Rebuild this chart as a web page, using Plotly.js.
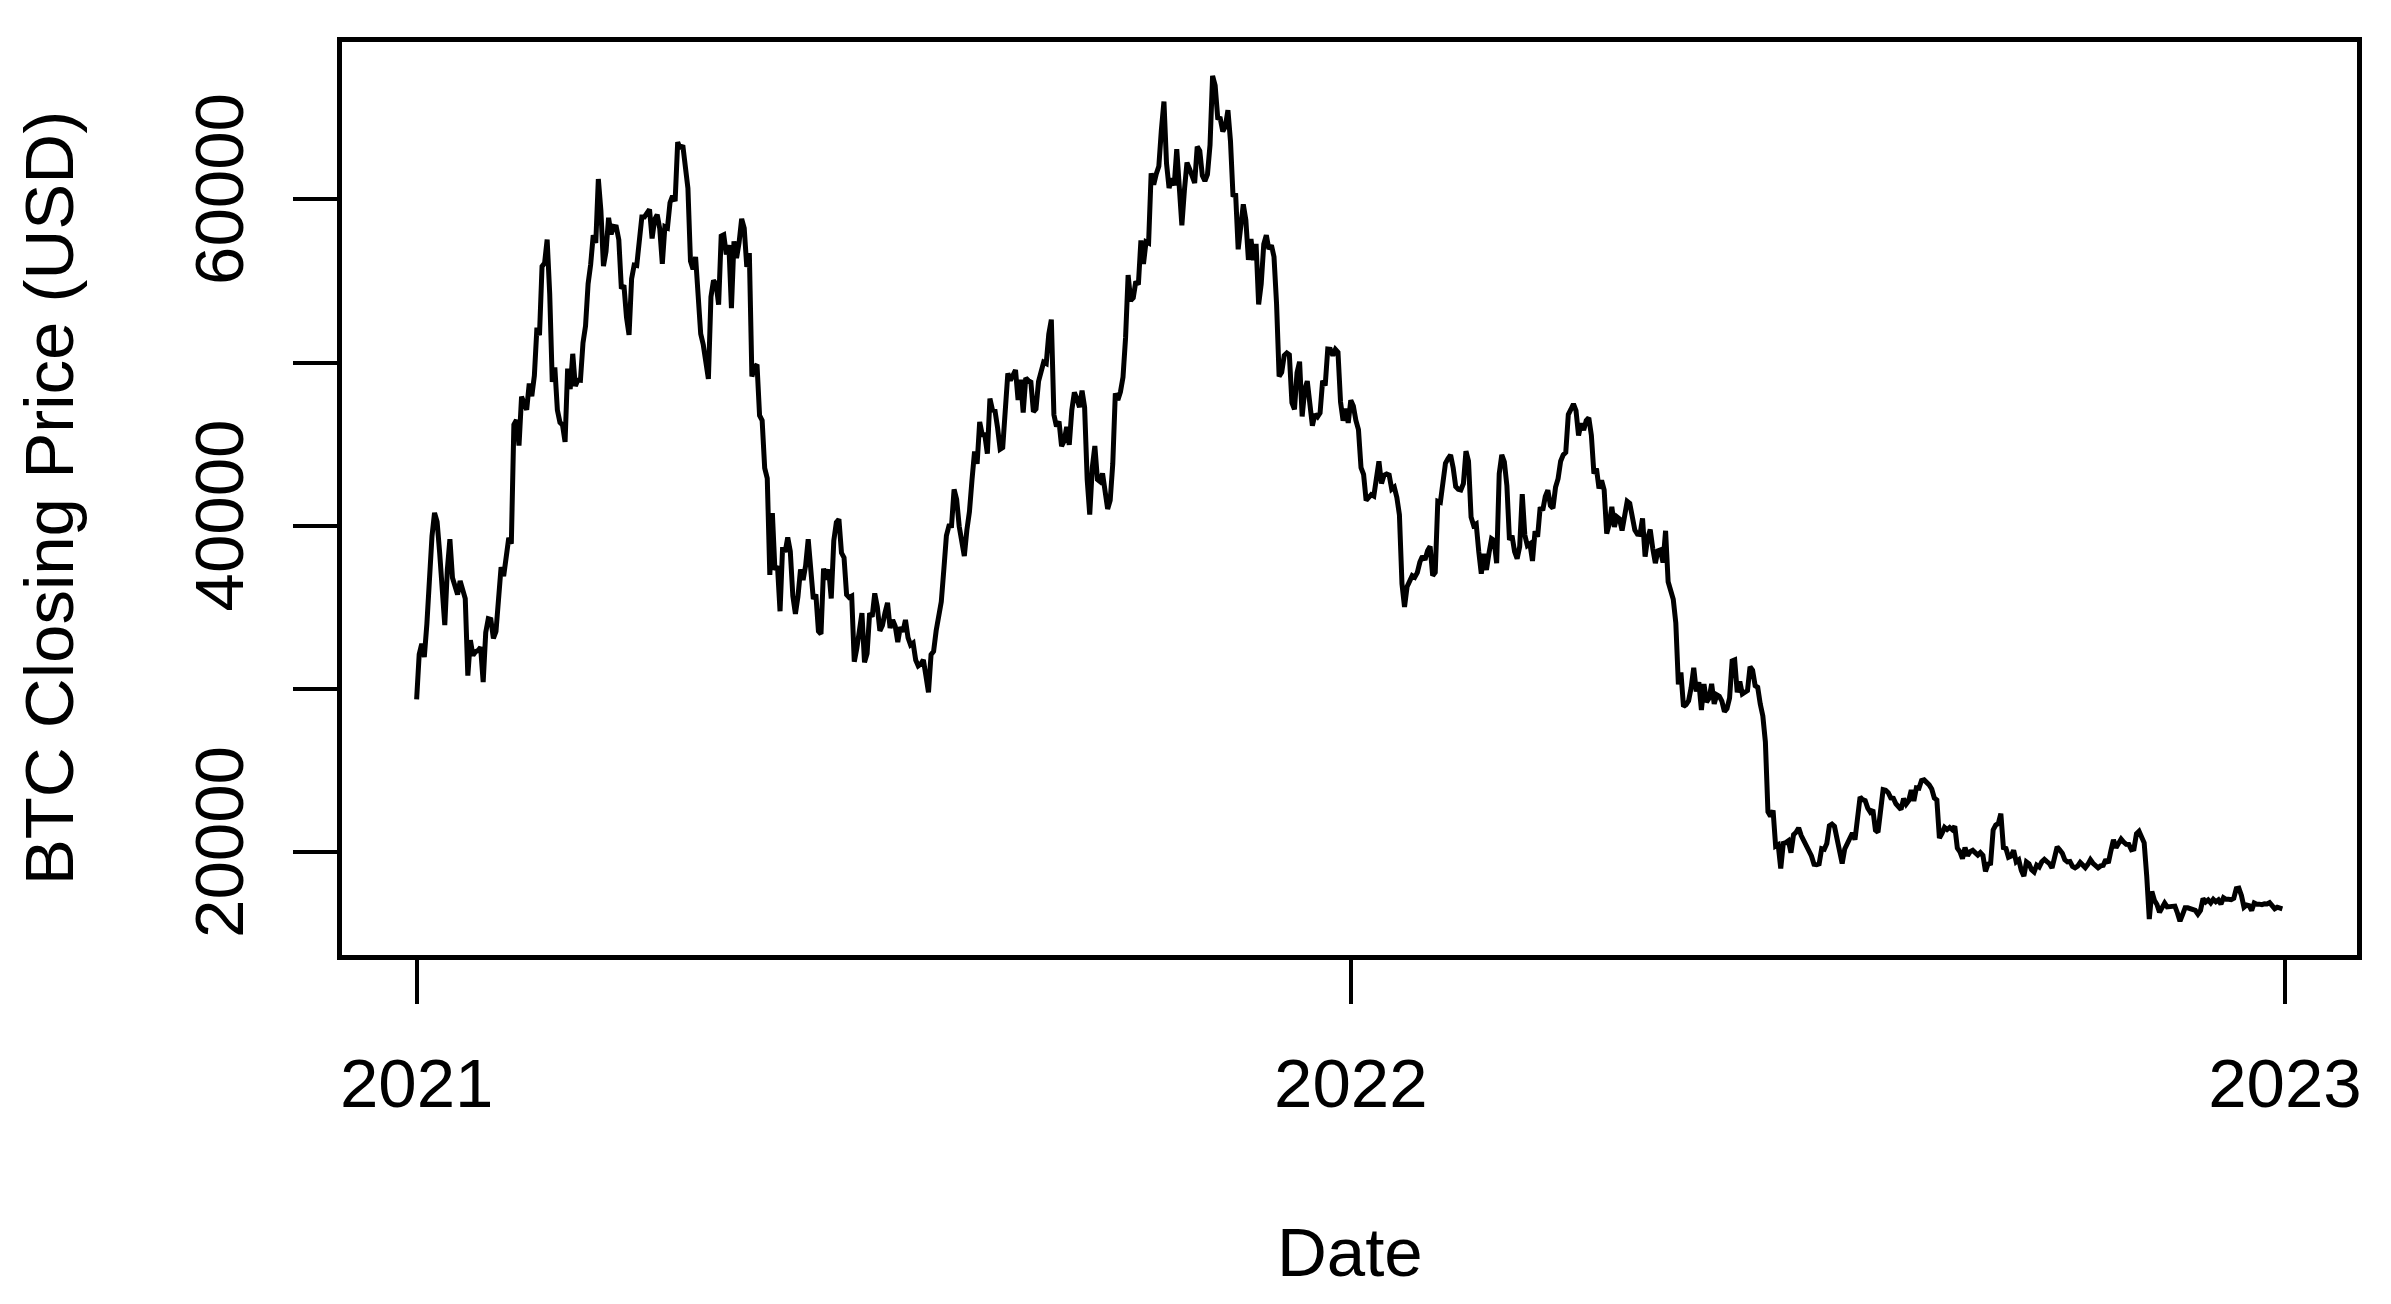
<!DOCTYPE html>
<html>
<head>
<meta charset="utf-8">
<script src="https://cdn.plot.ly/plotly-3.0.1.min.js"></script>
<style>
  html, body { margin: 0; padding: 0; background: #ffffff; }
  #graph { width: 2391px; height: 1304px; }
</style>
</head>
<body>
<div id="graph"></div>
<script>
// daily BTC closes, one row per month, starting 2021-01-01
const firstDay = "2021-01-01";

const close2021 = [
  29374, 32127, 32782, 31971, 33992, 36824, 39371, 40797, 40254, 38356, 35566, 33922, 37316, 39187, 36825, 36178, 35792, 36630, 36069, 35548, 30825, 33005, 32068, 32289, 32367, 32569, 30432, 33466, 34317, 34270, 33114,
  33538, 35510, 37472, 36926, 38144, 39266, 38903, 46196, 46481, 44919, 47910, 47505, 47106, 48717, 47945, 49199, 52149, 51679, 55888, 56099, 57539, 54207, 48824, 49705, 47093, 46339, 46188, 45137,
  49631, 48378, 50538, 48561, 48927, 48912, 51206, 52246, 54824, 56008, 57805, 57332, 61243, 59302, 55907, 56804, 58870, 57858, 58346, 58313, 57523, 54529, 54738, 52774, 51704, 55137, 55974, 55947, 57750, 58918, 58918,
  59095, 59384, 57604, 58758, 59057, 58192, 56048, 58323, 58245, 59793, 60204, 59893, 63503, 63109, 63314, 61572, 60683, 56216, 55724, 56473, 53906, 51762, 51093, 50050, 49004, 54021, 55033, 54824, 53555, 57750,
  57828, 56631, 57200, 53333, 57424, 56396, 57356, 58803, 58232, 55859, 56704, 49150, 49716, 49880, 46760, 46456, 43537, 42909, 37002, 40782, 37304, 37536, 34770, 38705, 38402, 39294, 38436, 35697, 34616, 35678, 37332,
  36684, 37575, 39187, 36825, 35520, 35797, 33552, 33380, 37389, 36702, 37335, 35553, 39097, 40218, 40406, 38348, 38054, 35787, 35615, 35698, 31676, 32505, 33723, 34663, 31637, 32186, 34649, 34434, 35867, 35041,
  33572, 33897, 34668, 35287, 33746, 34235, 33855, 32877, 33798, 33520, 34240, 33155, 32702, 32822, 31780, 31421, 31533, 31796, 30817, 29807, 32110, 32313, 33581, 34292, 35350, 37337, 39406, 39995, 40008, 42235, 41626,
  39974, 39201, 38152, 39747, 40869, 42816, 44555, 43798, 46365, 45585, 45593, 44428, 47793, 47096, 47047, 46004, 44695, 44801, 46717, 49339, 48905, 49321, 49546, 47706, 48960, 46942, 49058, 48897, 48806, 46991, 47166,
  48847, 49327, 50025, 49944, 51753, 52633, 46811, 46091, 46391, 44883, 45201, 46063, 44963, 47092, 48176, 47783, 47267, 48278, 47261, 42844, 40693, 43574, 44895, 42839, 42716, 43209, 42235, 41034, 41564, 43790,
  48116, 47711, 48199, 49112, 51514, 55361, 53805, 53967, 54968, 54771, 57484, 56041, 57401, 57321, 61593, 60892, 61553, 62026, 64261, 65992, 62211, 60688, 61286, 60852, 63078, 60328, 58413, 60575, 62253, 61859, 61319,
  61004, 63226, 62970, 61452, 61125, 61527, 63326, 67566, 66971, 64995, 64949, 64155, 64469, 65466, 63557, 60161, 60368, 56942, 58119, 59697, 58730, 56289, 57569, 56280, 57274, 53569, 54815, 57248, 57806, 56951,
  57184, 56480, 53602, 49152, 49396, 50441, 50588, 50471, 47545, 47140, 49389, 50053, 46702, 48343, 48864, 47632, 46131, 46834, 46681, 46915, 48897, 48588, 50838, 50820, 50429, 50809, 50640, 47588, 46444, 47178, 46306
];

const close2022 = [
  47686, 47345, 46458, 45897, 43569, 43160, 41558, 41734, 41912, 41822, 42736, 43949, 42591, 43099, 43177, 43113, 42250, 42375, 41744, 40680, 36457, 35030, 36276, 36654, 36954, 36852, 37138, 37784, 38138, 37917, 38483,
  38743, 36952, 37154, 41501, 41441, 42412, 43840, 44118, 44338, 43565, 42407, 42244, 42197, 42586, 44575, 43961, 40538, 40030, 40122, 38431, 37075, 38286, 37297, 38332, 39214, 39105, 37710, 43193,
  44354, 43924, 42452, 39137, 39400, 38420, 37988, 38730, 41941, 39439, 38794, 38904, 37849, 39666, 39338, 41143, 40951, 41801, 42190, 41247, 41077, 42358, 42892, 43960, 44348, 44500, 46820, 47128, 47465, 47062, 45538,
  46281, 45868, 46453, 46622, 45555, 43206, 43503, 42287, 42782, 42207, 39521, 40127, 41166, 39935, 40553, 40424, 39716, 40826, 41502, 41374, 40527, 39740, 39486, 39469, 40458, 38117, 39241, 39773, 38609, 37714,
  38469, 38529, 37750, 39698, 36575, 36040, 35501, 34059, 30296, 31022, 28936, 29047, 29283, 30101, 31305, 29862, 30425, 28720, 30314, 29200, 29432, 30323, 29098, 29655, 29562, 29267, 28627, 28814, 29445, 31726, 31792,
  29799, 30467, 29704, 29833, 29907, 31371, 31155, 30214, 30112, 29083, 28360, 26762, 22487, 22206, 22572, 20382, 20472, 19017, 20553, 20599, 20710, 19988, 21085, 21231, 21502, 21028, 20735, 20281, 20104, 19785,
  19269, 19243, 19297, 20231, 20190, 20548, 21637, 21731, 21592, 20860, 19970, 19323, 20212, 20569, 20836, 21190, 20779, 22485, 23389, 23231, 23164, 22714, 22465, 22609, 21361, 21239, 22930, 23843, 23804, 23656, 23336,
  23314, 22978, 22846, 22630, 23289, 22961, 23175, 23810, 23149, 23954, 23934, 24403, 24442, 24319, 24136, 23883, 23335, 23212, 20877, 21166, 21534, 21398, 21528, 21395, 21600, 20260, 20041, 19616, 20297, 19796, 20050,
  20127, 19952, 19832, 19986, 19812, 18837, 19290, 19329, 21381, 21680, 21769, 22371, 20296, 20241, 19701, 19772, 20127, 19419, 19544, 18891, 18547, 19413, 19297, 18937, 18802, 19222, 19110, 19426, 19573, 19431,
  19312, 19044, 19623, 20336, 20160, 19955, 19546, 19416, 19446, 19141, 19051, 19157, 19382, 19185, 19067, 19268, 19550, 19334, 19139, 19053, 19172, 19208, 19567, 19345, 20095, 20770, 20285, 20595, 20818, 20635, 20495,
  20485, 20159, 20209, 21148, 21300, 20905, 20591, 18547, 15922, 17601, 17070, 16812, 16330, 16619, 16901, 16663, 16680, 16698, 16711, 16291, 15787, 16189, 16611, 16604, 16522, 16459, 16444, 16217, 16444, 17168,
  16967, 17089, 16908, 17130, 16974, 17089, 16836, 17224, 17128, 17128, 17105, 17184, 17780, 17815, 17364, 16648, 16777, 16739, 16438, 16898, 16820, 16830, 16796, 16847, 16841, 16920, 16717, 16552, 16642, 16602, 16547
];

const xTickVals = ["2021-01-01", "2022-01-01", "2023-01-01"];
const xTickText = ["2021", "2022", "2023"];
const yTickVals = [20000, 30000, 40000, 50000, 60000];
const yTickText = ["20000", "", "40000", "", "60000"];

const closes = close2021.concat(close2022);
const dayMs = 24 * 3600 * 1000;
const t0 = Date.parse(firstDay + "T00:00:00Z");
const dates = closes.map((v, i) => new Date(t0 + i * dayMs).toISOString().slice(0, 10));

// R style axis range: data range padded by 4% on each side
function paddedRange(lo, hi) {
  let pad = (hi - lo) * 0.04;
  return [lo - pad, hi + pad];
}

let xSpan = paddedRange(t0, t0 + (closes.length - 1) * dayMs);
let ySpan = paddedRange(Math.min(...closes), Math.max(...closes));

const font = "Liberation Sans, Arial, Helvetica, sans-serif";
const fontSize = 69;

let data = [
  {
    x: dates,
    y: closes,
    type: "scatter",
    mode: "lines",
    line: { color: "#000000", width: 5 },
    hoverinfo: "skip",
  },
];

let layout = {
  width: 2391,
  height: 1304,
  paper_bgcolor: "#ffffff",
  plot_bgcolor: "#ffffff",
  showlegend: false,
  margin: { l: 342, r: 34, t: 42, b: 349 },
  font: { family: font, size: fontSize, color: "#000000" },
  xaxis: {
    type: "date",
    range: [new Date(xSpan[0]).toISOString(), new Date(xSpan[1]).toISOString()],
    tickmode: "array",
    tickvals: xTickVals,
    ticktext: xTickText,
    ticks: "outside",
    ticklen: 44,
    tickwidth: 4,
    tickcolor: "#000000",
    ticklabelstandoff: 20,
    tickfont: { family: font, size: fontSize, color: "#000000" },
    showline: true,
    linewidth: 5,
    linecolor: "#000000",
    mirror: true,
    showgrid: false,
    zeroline: false,
  },
  yaxis: {
    range: ySpan,
    tickmode: "array",
    tickvals: yTickVals,
    ticktext: yTickText,
    tickangle: -90,
    ticks: "outside",
    ticklen: 44,
    tickwidth: 4,
    tickcolor: "#000000",
    ticklabelstandoff: 22,
    tickfont: { family: font, size: fontSize, color: "#000000" },
    showline: true,
    linewidth: 5,
    linecolor: "#000000",
    mirror: true,
    showgrid: false,
    zeroline: false,
  },
  annotations: [
    {
      xref: "paper",
      yref: "paper",
      x: 0.5,
      y: -0.326,
      xanchor: "center",
      yanchor: "middle",
      text: "Date",
      showarrow: false,
      font: { family: font, size: fontSize, color: "#000000" },
    },
    {
      xref: "paper",
      yref: "paper",
      x: -0.145,
      y: 0.5,
      xanchor: "center",
      yanchor: "middle",
      textangle: -90,
      text: "BTC Closing Price (USD)",
      showarrow: false,
      font: { family: font, size: fontSize, color: "#000000" },
    },
  ],
};

let configuration = { displayModeBar: false, staticPlot: true };

Plotly.newPlot("graph", data, layout, configuration);
</script>
</body>
</html>
